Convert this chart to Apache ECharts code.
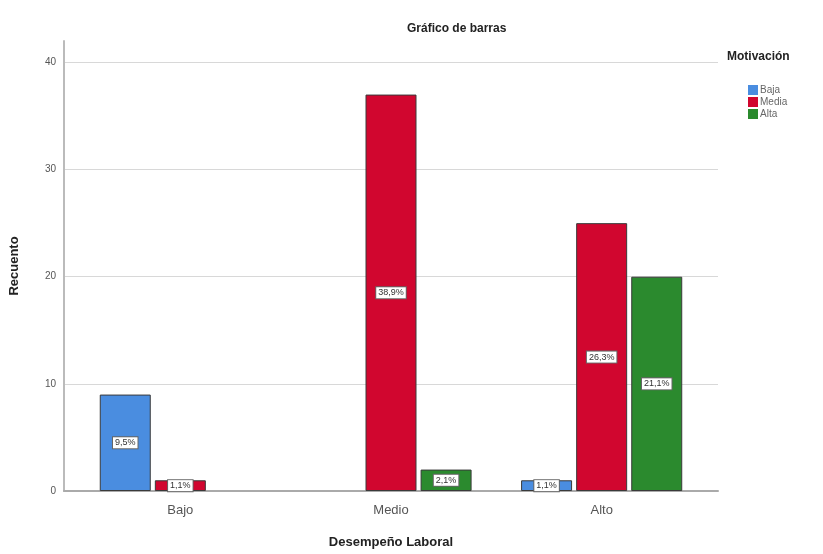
<!DOCTYPE html>
<html><head><meta charset="utf-8">
<script src="https://cdn.jsdelivr.net/npm/echarts@6/dist/echarts.min.js"></script>
<style>html,body{margin:0;padding:0;background:#fff}#c{width:823px;height:554px}</style>
</head><body><div id="c"></div>
<script>
var categories = ['Bajo', 'Medio', 'Alto'];
var seriesNames = ['Baja', 'Media', 'Alta'];
var baja = [9, 0, 1];
var media = [1, 37, 25];
var alta = [0, 2, 20];
var bajaPct = ['9,5%', '', '1,1%'];
var mediaPct = ['1,1%', '38,9%', '26,3%'];
var altaPct = ['', '2,1%', '21,1%'];
var colors = ['#4a8de0', '#d1062f', '#2b8a2e'];
var yTicks = [0, 10, 20, 30, 40];

function mk(name, vals, pcts, color) {
  return {
    name: name, type: 'bar', barWidth: 51, barGap: '8%',
    xAxisIndex: 1, yAxisIndex: 1,
    data: vals.map(function (v, i) {
      // zero counts draw no bar in the reference
      return v === 0 ? { value: '-', label: { show: false } } : { value: v, pct: pcts[i] };
    }),
    itemStyle: { color: color, borderColor: '#3a3a3a', borderWidth: 1 },
    label: {
      show: true, position: 'inside',
      formatter: function (p) { return p.data.pct; },
      backgroundColor: '#fff', borderColor: '#666', borderWidth: 1,
      padding: [1, 2], color: '#333', fontSize: 9, fontFamily: 'Liberation Sans'
    }
  };
}

var chart = echarts.init(document.getElementById('c'), null, { renderer: 'canvas' });
chart.setOption({
  animation: false,
  backgroundColor: '#fff',
  title: {
    text: 'Gráfico de barras', left: 402, top: 18,
    textStyle: { fontSize: 12, fontWeight: 'bold', color: '#222', fontFamily: 'Liberation Sans' }
  },
  legend: {
    orient: 'vertical', left: 743, top: 80, itemWidth: 10, itemHeight: 10, itemGap: 2,
    icon: 'rect',
    itemStyle: { borderWidth: 0 },
    data: seriesNames,
    textStyle: { fontSize: 10, color: '#666', fontFamily: 'Liberation Sans', padding: [0, 0, 0, -3] }
  },
  graphic: [{
    type: 'text', left: 727, top: 51,
    style: { text: 'Motivación', font: 'bold 12px Liberation Sans', fill: '#222' }
  }],
  grid: [
    { left: 64, right: 105, top: 41, bottom: 63 },
    { left: 75, right: 116, top: 41, bottom: 63 }
  ],
  xAxis: [{
    gridIndex: 0, type: 'category', data: categories,
    axisLine: { lineStyle: { color: '#aaa', width: 2 } },
    axisTick: { show: false }, axisLabel: { show: false }, splitLine: { show: false }
  }, {
    gridIndex: 1, type: 'category', data: categories,
    name: 'Desempeño Laboral', nameLocation: 'middle', nameGap: 45,
    nameTextStyle: { fontSize: 13, fontWeight: 'bold', color: '#222', fontFamily: 'Liberation Sans' },
    axisLine: { show: false },
    axisTick: { show: false },
    axisLabel: { fontSize: 13, color: '#555', margin: 13, fontFamily: 'Liberation Sans' }
  }],
  yAxis: [{
    gridIndex: 0, type: 'value', min: 0, max: 42, interval: 10,
    name: 'Recuento', nameLocation: 'middle', nameGap: 43, nameRotate: 90,
    nameTextStyle: { fontSize: 13, fontWeight: 'bold', color: '#222', fontFamily: 'Liberation Sans' },
    axisLine: { show: true, lineStyle: { color: '#bbb', width: 2 } },
    axisTick: { show: false },
    axisLabel: {
      fontSize: 10, color: '#555', margin: 8, showMaxLabel: false, fontFamily: 'Liberation Sans',
      formatter: function (v) { return yTicks.indexOf(v) >= 0 ? String(v) : ''; }
    },
    splitLine: { show: true, showMaxLine: false, lineStyle: { color: '#d8d8d8' } }
  }, {
    gridIndex: 1, type: 'value', min: 0, max: 42, interval: 10, show: false,
    splitLine: { show: false }
  }],
  color: colors,
  series: [
    mk(seriesNames[0], baja, bajaPct, colors[0]),
    mk(seriesNames[1], media, mediaPct, colors[1]),
    mk(seriesNames[2], alta, altaPct, colors[2])
  ]
});
</script></body></html>
